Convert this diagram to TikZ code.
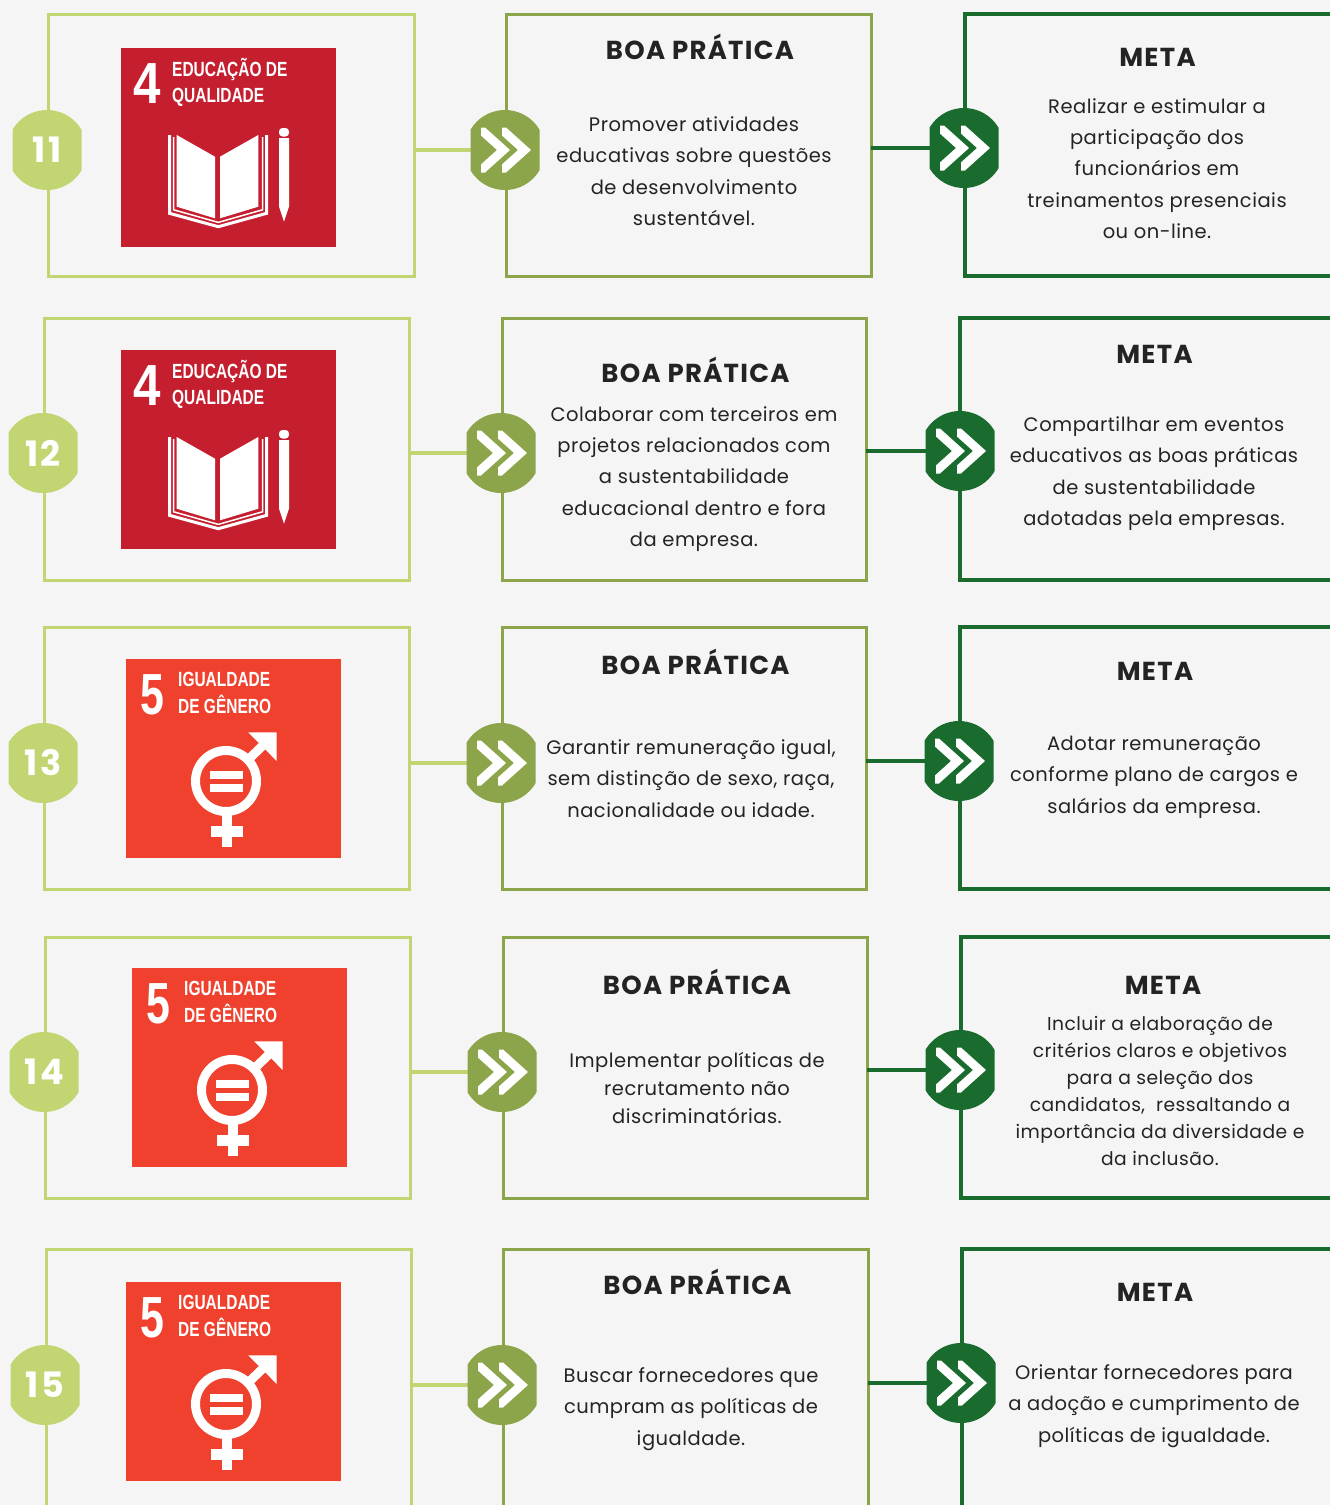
\documentclass[tikz,border=0pt]{standalone}
\usepackage{fontspec}
\setmainfont{Poppins}[LetterSpace=2.5]
\newfontfamily\titlefont{Poppins}[LetterSpace=5]
\newfontfamily\numfont{Poppins}[LetterSpace=8]
\newfontfamily\sdgfont{Liberation Sans}
\definecolor{bg}{HTML}{F5F5F5}
\definecolor{lgreen}{HTML}{C1D672}
\definecolor{olive}{HTML}{8DA54A}
\definecolor{dgreen}{HTML}{196B2E}
\definecolor{sdgred}{HTML}{C51F2F}
\definecolor{sdgorange}{HTML}{EF412E}
\definecolor{txt}{HTML}{232323}
\tikzset{
  frameA/.style={draw=lgreen, line width=3pt, anchor=north west, inner sep=0pt, outer sep=0pt},
  frameB/.style={draw=olive, line width=3pt, anchor=north west, inner sep=0pt, outer sep=0pt},
  frameC/.style={draw=dgreen, line width=3.2pt, anchor=north west, inner sep=0pt, outer sep=0pt},
  linkA/.style={draw=lgreen, line width=4pt},
  linkB/.style={draw=dgreen, line width=4pt},
  body/.style={font=\fontsize{19.5}{31.4}\selectfont, text=txt, align=center, inner sep=0pt},
  bodyfour/.style={font=\fontsize{19.5}{28}\selectfont, text=txt, align=center, inner sep=0pt},
  bodysm/.style={font=\fontsize{18.7}{27.1}\selectfont, text=txt, align=center, inner sep=0pt},
  title/.style={font=\titlefont\bfseries\fontsize{26}{30}\selectfont, text=txt, anchor=base, inner sep=0pt},
  numtxt/.style={font=\numfont\bfseries\fontsize{35}{35}\selectfont, text=white, inner sep=0pt},
  sdgtxt/.style={font=\sdgfont\bfseries\fontsize{20.5}{26.8}\selectfont, text=white, anchor=base west, inner sep=0pt},
  sdgnum/.style={font=\sdgfont\bfseries\fontsize{58}{58}\selectfont, text=white, anchor=base west, inner sep=0pt},
}
\newcommand\badge[2]{%
  \begin{scope}
    \clip (#1) ++(-34.5,-41) rectangle ++(69,82);
    \fill[#2] (#1) circle[radius=40];
  \end{scope}}
\newcommand\chevbadge[2]{%
  \badge{#1}{#2}%
  \begin{scope}[shift={(#1)}]
    \fill[white] (-24,-22.5) -- (-20,-22.5) -- (5,0) -- (-20,22.5) -- (-24,22.5) -- (-24,14.4) -- (-8,0) -- (-24,-14.4) -- cycle;
    \fill[white] (-3,-22.5) -- (1,-22.5) -- (26,0) -- (1,22.5) -- (-3,22.5) -- (-3,14.4) -- (13,0) -- (-3,-14.4) -- cycle;
  \end{scope}}
\newcommand\twolines[2]{\scalebox{0.755}[1]{\begin{tabular}[t]{@{}l@{}}#1\\#2\end{tabular}}}
\newcommand\sdgfour[2]{%
  \begin{scope}[shift={#1}]
    \fill[sdgred] (0,0) rectangle (215,199);
    \node[sdgnum] (#2n) at (12,55) {\scalebox{0.85}[1]{4}};
    \node[sdgtxt] (#2a) at (51,28) {\twolines{EDUCAÇÃO DE}{QUALIDADE}};
    \fill[white] (55.7,87) -- (94,108.7) -- (94,170.3) -- (55.7,158.7) -- cycle;
    \fill[white] (99,108.7) -- (137.3,87) -- (137.3,158.7) -- (99,170.3) -- cycle;
    \draw[white, line width=3pt] (48.5,87) -- (48.5,165.3) -- (97.3,178.7) -- (145.7,165.3) -- (145.7,87);
    \draw[white, line width=1.5pt] (52.6,89) -- (52.6,161.8) -- (97.3,174.4) -- (141.5,161.8) -- (141.5,89);
    \fill[white, rounded corners=3.5pt] (158,80) rectangle (168,88.5);
    \fill[white] (158,90) -- (168,90) -- (168,158.7) -- (163,173.7) -- (158,158.7) -- cycle;
  \end{scope}}
\newcommand\sdgfive[2]{%
  \begin{scope}[shift={#1}]
    \fill[sdgorange] (0,0) rectangle (215,199);
    \node[sdgnum] (#2n) at (14,55) {\scalebox{0.74}[1]{5}};
    \node[sdgtxt] (#2a) at (52,27.7) {\twolines{IGUALDADE}{DE GÊNERO}};
    \draw[white, line width=9pt] (100,122) circle[radius=30.5];
    \fill[white] (84,111.6) rectangle (117,120);
    \fill[white] (84,125) rectangle (117,133.3);
    \fill[white] (122.3,73.3) -- (150.7,73.3) -- (150.7,102) -- cycle;
    \draw[white, line width=9pt] (121.6,101.2) -- (140,83.5);
    \fill[white] (96,152) rectangle (106,187.6);
    \fill[white] (84.7,166.7) rectangle (117,177.7);
  \end{scope}}
\begin{document}
\begin{tikzpicture}[x=1pt,y=-1pt]
\useasboundingbox (0,0) rectangle (1330,1505);
\fill[bg] (0,0) rectangle (1330,1505);
\clip (0,0) rectangle (1330,1505);

% ---------- frames ----------
\node[frameA, minimum width=366pt, minimum height=262pt] (a1) at (48,14) {};
\node[frameB, minimum width=365pt, minimum height=262pt] (b1) at (506,14) {};
\node[frameC, minimum width=400pt, minimum height=262pt] (c1) at (965,14) {};
\node[frameA, minimum width=365pt, minimum height=262pt] (a2) at (44,318) {};
\node[frameB, minimum width=364pt, minimum height=262pt] (b2) at (502,318) {};
\node[frameC, minimum width=400pt, minimum height=262pt] (c2) at (960,318) {};
\node[frameA, minimum width=365pt, minimum height=262pt] (a3) at (44,627) {};
\node[frameB, minimum width=364pt, minimum height=262pt] (b3) at (502,627) {};
\node[frameC, minimum width=400pt, minimum height=262pt] (c3) at (960,627) {};
\node[frameA, minimum width=365pt, minimum height=261pt] (a4) at (45,937) {};
\node[frameB, minimum width=364pt, minimum height=261pt] (b4) at (503,937) {};
\node[frameC, minimum width=400pt, minimum height=261pt] (c4) at (961,937) {};
\node[frameA, minimum width=365pt, minimum height=300pt] (a5) at (46,1249) {};
\node[frameB, minimum width=365pt, minimum height=300pt] (b5) at (503,1249) {};
\node[frameC, minimum width=400pt, minimum height=300pt] (c5) at (962,1249) {};

% ---------- badge centres ----------
\coordinate (n1) at (47,150);   \coordinate (p1) at (505,150);  \coordinate (m1) at (964,148);
\coordinate (n2) at (43,453);   \coordinate (p2) at (501,453);  \coordinate (m2) at (960,451);
\coordinate (n3) at (43,763);   \coordinate (p3) at (501,763);  \coordinate (m3) at (959,761);
\coordinate (n4) at (44,1072);  \coordinate (p4) at (502,1072); \coordinate (m4) at (960,1070);
\coordinate (n5) at (45,1385);  \coordinate (p5) at (502,1385); \coordinate (m5) at (961,1383);

% ---------- connectors ----------
\foreach \i in {1,...,5}{
  \draw[linkA] (a\i.east |- p\i) -- (p\i);
  \draw[linkB] (b\i.east |- m\i) -- (m\i);
}

% ---------- badges ----------
\foreach \i/\t in {1/11,2/12,3/13,4/14,5/15}{
  \badge{n\i}{lgreen}
  \node[numtxt] (nt\i) at (n\i) {\t};
  \chevbadge{p\i}{olive}
  \chevbadge{m\i}{dgreen}
}

% ---------- SDG icons ----------
\sdgfour{(121,48)}{ia}
\sdgfour{(121,350)}{ib}
\sdgfive{(126,659)}{ic}
\sdgfive{(132,968)}{id}
\sdgfive{(126,1282)}{ie}

% ---------- titles ----------
\node[title] (tb1) at (700,59.5) {BOA PRÁTICA};
\node[title] (tc1) at (1157.5,66.5) {META};
\node[title] (tb2) at (695.5,382.5) {BOA PRÁTICA};
\node[title] (tc2) at (1154.5,363.5) {META};
\node[title] (tb3) at (695.5,674.5) {BOA PRÁTICA};
\node[title] (tc3) at (1155,680.5) {META};
\node[title] (tb4) at (697,994.5) {BOA PRÁTICA};
\node[title] (tc4) at (1163,994.5) {META};
\node[title] (tb5) at (697.5,1294.5) {BOA PRÁTICA};
\node[title] (tc5) at (1155,1301.5) {META};

% ---------- body texts ----------
\node[body] (xb1) at (694,171) {Promover atividades\\educativas sobre questões\\de desenvolvimento\\sustentável.};
\node[body] (xc1) at (1157,168.5) {Realizar e estimular a\\participação dos\\funcionários em\\treinamentos presenciais\\ou on-line.};
\node[body] (xb2) at (694,479) {Colaborar com terceiros em\\projetos relacionados com\\a sustentabilidade\\educacional dentro e fora\\da empresa.};
\node[body] (xc2) at (1154,473.5) {Compartilhar em eventos\\educativos as boas práticas\\de sustentabilidade\\adotadas pela empresas.};
\node[body] (xb3) at (691,778.5) {Garantir remuneração igual,\\sem distinção de sexo, raça,\\nacionalidade ou idade.};
\node[body] (xc3) at (1154,777) {Adotar remuneração\\conforme plano de cargos e\\salários da empresa.};
\node[bodyfour] (xb4) at (697,1087.5) {Implementar políticas de\\recrutamento não\\discriminatórias.};
\node[bodysm] (xc4) at (1160,1091) {Incluir a elaboração de\\critérios claros e objetivos\\para a seleção dos\\candidatos,\ \ ressaltando a\\importância da diversidade e\\da inclusão.};
\node[body] (xb5) at (691,1409) {Buscar fornecedores que\\cumpram as políticas de\\igualdade.};
\node[body] (xc5) at (1154,1406) {Orientar fornecedores para\\a adoção e cumprimento de\\políticas de igualdade.};
\end{tikzpicture}
\end{document}
